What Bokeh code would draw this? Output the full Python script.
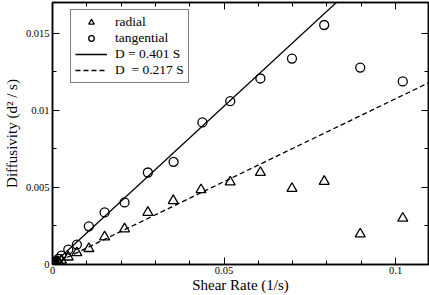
from bokeh.plotting import figure
from bokeh.models import (LinearAxis, FixedTicker, PrintfTickFormatter, Range1d,
                          Legend, LegendItem)
from bokeh.embed import file_html
from bokeh.resources import INLINE

# ---- data ----
tangential_x = [0.0002, 0.0005, 0.0010, 0.0017, 0.0026, 0.0046, 0.0071, 0.0106,
                0.0152, 0.0210, 0.0278, 0.0353, 0.0437, 0.0518, 0.0606, 0.0698,
                0.0792, 0.0897, 0.1021]
tangential_y = [0.00005, 0.00011, 0.00022, 0.00036, 0.00058, 0.00097, 0.00129, 0.00248,
                0.00338, 0.00403, 0.00597, 0.00666, 0.00922, 0.01060, 0.01207, 0.01336,
                0.01554, 0.01278, 0.01188]
radial_x = [0.0002, 0.0005, 0.0010, 0.0017, 0.0026, 0.0046, 0.0071, 0.0106,
            0.0152, 0.0210, 0.0278, 0.0352, 0.0433, 0.0518, 0.0606, 0.0698,
            0.0792, 0.0897, 0.1021]
radial_y = [0.00002, 0.00006, 0.00011, 0.00018, 0.00028, 0.00048, 0.00076, 0.00103,
            0.00179, 0.00231, 0.00338, 0.00414, 0.00485, 0.00535, 0.00597, 0.00493,
            0.00539, 0.00198, 0.00300]
fit_x = [0.0, 0.11]
fit_solid_y = [0.0, 0.0226]
fit_dashed_y = [0.0, 0.01183]

x_major = [0, 0.05, 0.1]
x_minor = [0.01, 0.02, 0.03, 0.04, 0.06, 0.07, 0.08, 0.09]
y_major = [0, 0.005, 0.01, 0.015]
y_minor = [0.0025, 0.0075, 0.0125]

labels = ["radial", "tangential", "D = 0.401 S", "D \u00a0= 0.217 S"]

FONT = "Liberation Serif"

p = figure(width=429, height=295, output_backend="svg", toolbar_location=None,
           x_range=Range1d(0, 0.1096), y_range=Range1d(0, 0.0170),
           min_border_left=51, min_border_right=1, min_border_top=2, min_border_bottom=30,
           x_axis_label="Shear Rate (1/s)", y_axis_label="Diffusivity (d\u00b2 / s)")
p.background_fill_color = "white"
p.border_fill_color = "white"
p.outline_line_color = "black"
p.outline_line_width = 1.5
p.xgrid.visible = False
p.ygrid.visible = False

xt = FixedTicker(ticks=x_major, minor_ticks=x_minor)
yt = FixedTicker(ticks=y_major, minor_ticks=y_minor)

def style_axis(ax, ticker, show_labels):
    ax.ticker = ticker
    ax.formatter = PrintfTickFormatter(format="%g")
    ax.major_tick_in = 7
    ax.major_tick_out = 0
    ax.minor_tick_in = 4
    ax.minor_tick_out = 0
    ax.axis_line_color = "black"
    ax.axis_line_width = 1.5
    ax.major_tick_line_color = "black"
    ax.minor_tick_line_color = "black"
    ax.major_label_text_font = FONT
    ax.axis_label_text_font = FONT
    ax.axis_label_text_font_style = "normal"
    ax.axis_label_text_color = "black"
    ax.axis_label_text_font_size = "15px"
    if show_labels:
        ax.major_label_text_color = "black"
        ax.major_label_text_font_size = "10.5px"
        ax.major_label_standoff = 3
        ax.axis_label_standoff = 3
    else:
        ax.major_label_text_color = None
        ax.major_label_text_font_size = "1px"
        ax.major_label_standoff = 0
        ax.axis_label = None

style_axis(p.xaxis[0], xt, True)
style_axis(p.yaxis[0], yt, True)
p.xaxis[0].major_label_standoff = 2
p.xaxis[0].axis_label_standoff = 0
top = LinearAxis()
right = LinearAxis()
style_axis(top, xt, False)
style_axis(right, yt, False)
p.add_layout(top, "above")
p.add_layout(right, "right")

r_rad = p.scatter(radial_x, radial_y, marker="triangle", size=10,
                  fill_color=None, line_color="black", line_width=1.3)
r_tan = p.scatter(tangential_x, tangential_y, marker="circle", size=9,
                  fill_color=None, line_color="black", line_width=1.3)
r_solid = p.line(fit_x, fit_solid_y, line_color="black", line_width=1.3)
r_dash = p.line(fit_x, fit_dashed_y, line_color="black", line_width=1.3,
                line_dash="5 3")

legend = Legend(items=[LegendItem(label=labels[0], renderers=[r_rad]),
                       LegendItem(label=labels[1], renderers=[r_tan]),
                       LegendItem(label=labels[2], renderers=[r_solid]),
                       LegendItem(label=labels[3], renderers=[r_dash])],
                location=(18, 181))
legend.label_text_font = FONT
legend.label_text_font_size = "13.5px"
legend.label_text_color = "black"
legend.label_height = 14
legend.glyph_height = 14
legend.glyph_width = 32
legend.label_standoff = 8
legend.spacing = 0
legend.padding = 4
legend.margin = 0
legend.border_line_color = "black"
legend.border_line_width = 1.2
legend.background_fill_alpha = 1.0
p.add_layout(legend, "center")

open("out.html", "w").write(file_html(p, INLINE))
